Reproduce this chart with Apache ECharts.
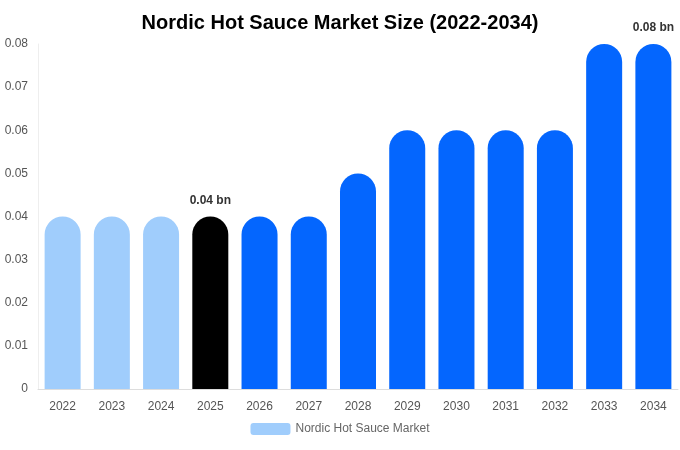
<html>
<head>
<meta charset="utf-8">
<script src="https://cdn.jsdelivr.net/npm/echarts@6/dist/echarts.min.js"></script>
<style>html,body{margin:0;padding:0;background:#fff}#main{width:680px;height:450px}</style>
</head>
<body>
<div id="main"></div>
<script>
var years = ['2022','2023','2024','2025','2026','2027','2028','2029','2030','2031','2032','2033','2034'];
var values = [0.04, 0.04, 0.04, 0.04, 0.04, 0.04, 0.05, 0.06, 0.06, 0.06, 0.06, 0.08, 0.08];
var labelled = ['2025', '2034'];

var chart = echarts.init(document.getElementById('main'));
chart.setOption({
    title: {
        text: 'Nordic Hot Sauce Market Size (2022-2034)',
        left: 'center', top: 8,
        textStyle: {fontFamily: 'Liberation Sans', fontSize: 20, fontWeight: 'bold', color: '#000'}
    },
    legend: {
        bottom: 10, itemWidth: 40, itemHeight: 12,
        textStyle: {fontFamily: 'Liberation Sans', color: '#666', fontSize: 12},
        data: [{name: 'Nordic Hot Sauce Market', itemStyle: {color: '#a0cdfc'}}]
    },
    grid: {left: 38, right: 2, top: 44, bottom: 61},
    xAxis: {
        type: 'category', data: years,
        axisLine: {lineStyle: {color: '#ddd'}},
        axisTick: {show: false},
        axisLabel: {color: '#555', fontFamily: 'Liberation Sans', fontSize: 12, margin: 12}
    },
    yAxis: {
        type: 'value', min: 0, max: 0.08, interval: 0.01,
        axisLine: {show: true, lineStyle: {color: '#eee'}},
        splitLine: {show: false},
        axisLabel: {color: '#555', fontFamily: 'Liberation Sans', fontSize: 12, margin: 10,
            formatter: function (v) { return v === 0 ? '0' : v.toFixed(2); }}
    },
    series: [{
        name: 'Nordic Hot Sauce Market',
        type: 'bar', barWidth: 36,
        data: values.map(function (v, i) {
            var c = i < 3 ? '#a0cdfc' : (years[i] === '2025' ? '#000000' : '#0466fe');
            return {
                value: v,
                itemStyle: {color: c, borderRadius: [18, 18, 0, 0]},
                label: {show: labelled.indexOf(years[i]) >= 0}
            };
        }),
        label: {
            position: 'top', distance: 10,
            fontFamily: 'Liberation Sans', fontWeight: 'bold', fontSize: 12, color: '#333',
            formatter: function (p) { return p.value.toFixed(2) + ' bn'; }
        }
    }]
});
</script>
</body>
</html>
